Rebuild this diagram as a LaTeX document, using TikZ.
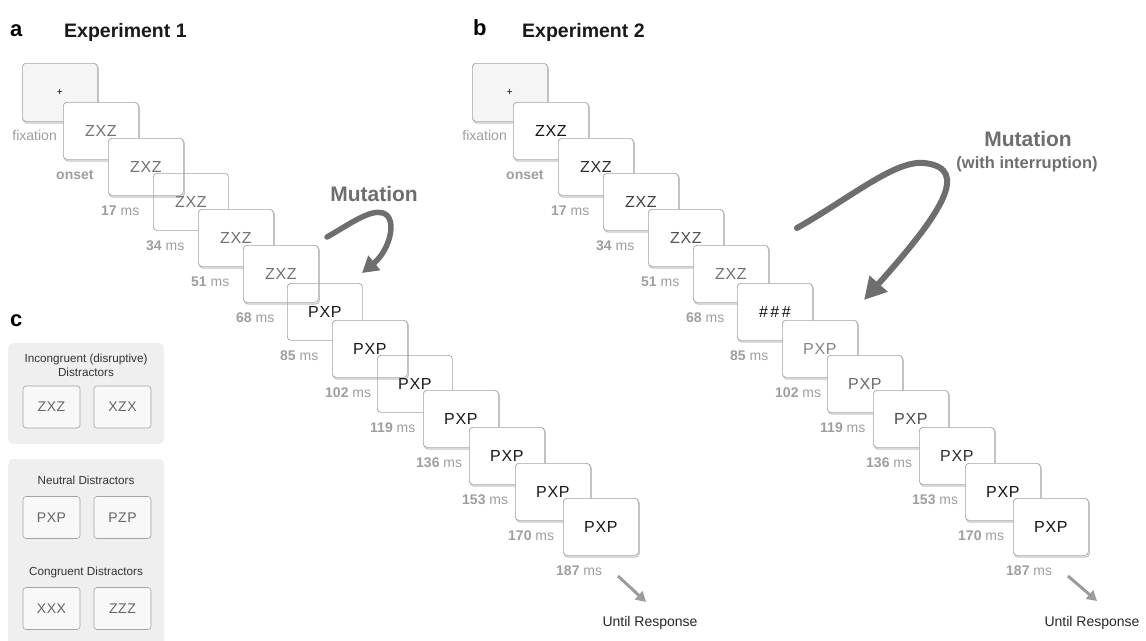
\documentclass[tikz,border=0pt]{standalone}
\usepackage{fontspec}
\setmainfont{Liberation Sans}
\newfontfamily\stimfont[LetterSpace=4]{Liberation Sans}
\usetikzlibrary{arrows.meta,calc}
\definecolor{framegray}{HTML}{A3A3A3}
\definecolor{shadowgray}{HTML}{C4C4C4}
\definecolor{labelgray}{HTML}{9E9E9E}
\definecolor{mutgray}{HTML}{6E6E6E}
\definecolor{panelgray}{HTML}{EFEFEF}
\definecolor{fixfill}{HTML}{F5F5F5}
\definecolor{sqfill}{HTML}{F8F8F8}
\definecolor{respgray}{HTML}{9C9C9C}
\newcommand\hashes{\#\kern2.5pt\#\kern2.5pt\#}
\begin{document}
\begin{tikzpicture}[x=1pt,y=-1pt,
  frame/.style={draw=framegray, line width=0.7pt, rounded corners=3.5pt,
    minimum width=75pt, minimum height=57pt, inner sep=0pt, anchor=north west,
    font=\stimfont\fontsize{16}{16}\selectfont},
  op/.style={fill=white, preaction={draw=shadowgray, line width=1.1pt,
    transform canvas={xshift=1pt,yshift=-1.6pt}}},
  tr/.style={fill=none},
  tlabel/.style={anchor=base west, text=labelgray, inner sep=0pt,
    font=\fontsize{14}{16}\selectfont},
  paneltitle/.style={anchor=base west, inner sep=0pt,
    font=\bfseries\fontsize{22}{24}\selectfont},
  exptitle/.style={anchor=base west, inner sep=0pt,
    font=\bfseries\fontsize{19.5}{22}\selectfont, text=black!90},
  muttext/.style={anchor=base, inner sep=0pt, text=mutgray},
  mutarrow/.style={draw=mutgray, line width=5.5pt, line cap=round},
  resparrow/.style={draw=respgray, line width=3pt, -{Triangle[length=10pt,width=11pt]}},
  resptext/.style={anchor=base, inner sep=0pt, text=black!85,
    font=\fontsize{14}{16}\selectfont},
  cpanel/.style={fill=panelgray, rounded corners=5pt, inner sep=0pt, anchor=north west,
    minimum width=156pt},
  ctext/.style={inner sep=0pt, text=black!80, font=\fontsize{11.7}{14}\selectfont},
  csq/.style={draw=framegray, fill=sqfill, line width=0.6pt, rounded corners=3pt,
    minimum width=57pt, minimum height=42pt, inner sep=0pt, text=black!60,
    font=\stimfont\fontsize{14}{14}\selectfont}
]
\useasboundingbox (0,0) rectangle (1146,640);

% ---------- titles ----------
\node[paneltitle] (ta) at (10,36) {a};
\node[exptitle] (te1) at (64,37) {Experiment 1};
\node[paneltitle] (tb) at (473,35) {b};
\node[exptitle] (te2) at (522,37) {Experiment 2};
\node[paneltitle] (tc) at (10,326) {c};

% ---------- panel a ----------
\node[frame, op, fill=fixfill, minimum height=58pt, text=black,
      font=\fontsize{10}{10}\selectfont] (af) at (22,63) {+};
\node[anchor=base east, inner sep=0pt, text=labelgray,
      font=\fontsize{14}{16}\selectfont] (afl) at (57,140) {fixation};
\foreach \n/\x/\y/\t/\c/\f in {
  0/63/102/ZXZ/55/op, 1/108/138/ZXZ/55/op, 2/153/173/ZXZ/55/tr,
  3/198/209/ZXZ/55/op, 4/243/245/ZXZ/55/op, 5/287/283/PXP/90/tr,
  6/332/320/PXP/90/op, 7/377/355/PXP/90/tr, 8/423/390/PXP/90/op,
  9/469/427/PXP/90/op, 10/515/463/PXP/90/op, 11/563/498/PXP/90/op}
  \node[frame, \f, text=black!\c] (a\n) at (\x,\y) {\t};
\foreach \n/\lab in {0/{\textbf{onset}}, 1/{\textbf{17} ms}, 2/{\textbf{34} ms},
  3/{\textbf{51} ms}, 4/{\textbf{68} ms}, 5/{\textbf{85} ms}, 6/{\textbf{102} ms},
  7/{\textbf{119} ms}, 8/{\textbf{136} ms}, 9/{\textbf{153} ms},
  10/{\textbf{170} ms}, 11/{\textbf{187} ms}}
  \node[tlabel] (al\n) at ($(a\n.south west)+(-7,20)$) {\lab};

\node[muttext, font=\bfseries\fontsize{21}{24}\selectfont] (mta) at (374,201) {Mutation};
\coordinate (ma1) at (327,237);
\coordinate (ma2) at (383,213);
\coordinate (ma3) at (362,273);
\draw[mutarrow, -{Triangle[length=16pt,width=18pt]}]
  (ma1) .. controls (350,224) and (370,209) .. (ma2)
        .. controls (398,218) and (390,250) .. (ma3);

\coordinate (ua1) at (618,576);
\coordinate (ua2) at (646,602);
\draw[resparrow] (ua1) -- (ua2);
\node[resptext] (uta) at (650,626) {Until Response};

% ---------- panel b ----------
\node[frame, op, fill=fixfill, minimum height=58pt, text=black,
      font=\fontsize{10}{10}\selectfont] (bf) at (472,63) {+};
\node[anchor=base east, inner sep=0pt, text=labelgray,
      font=\fontsize{14}{16}\selectfont] (bfl) at (507,140) {fixation};
\foreach \n/\x/\y/\t/\c in {
  0/513/102/ZXZ/92, 1/558/138/ZXZ/82, 2/603/173/ZXZ/75,
  3/648/209/ZXZ/68, 4/693/245/ZXZ/55, 5/737/283/\hashes/95,
  6/782/320/PXP/48, 7/827/355/PXP/58, 8/873/390/PXP/70,
  9/919/427/PXP/82, 10/965/463/PXP/92, 11/1013/498/PXP/92}
  \node[frame, op, text=black!\c] (b\n) at (\x,\y) {\t};
\foreach \n/\lab in {0/{\textbf{onset}}, 1/{\textbf{17} ms}, 2/{\textbf{34} ms},
  3/{\textbf{51} ms}, 4/{\textbf{68} ms}, 5/{\textbf{85} ms}, 6/{\textbf{102} ms},
  7/{\textbf{119} ms}, 8/{\textbf{136} ms}, 9/{\textbf{153} ms},
  10/{\textbf{170} ms}, 11/{\textbf{187} ms}}
  \node[tlabel] (bl\n) at ($(b\n.south west)+(-7,20)$) {\lab};

\node[muttext, font=\bfseries\fontsize{21}{24}\selectfont] (mtb) at (1028,146) {Mutation};
\node[muttext, font=\bfseries\fontsize{16.5}{18}\selectfont] (mtb2) at (1027,168) {(with interruption)};
\coordinate (mb1) at (797,228);
\coordinate (mb2) at (924,163);
\coordinate (mb3) at (864,300);
\draw[mutarrow, line width=6pt, -{Triangle[length=22pt,width=23pt]}]
  (mb1) .. controls (850,198) and (895,160) .. (mb2)
        .. controls (972,168) and (940,215) .. (mb3);

\coordinate (ub1) at (1068,576);
\coordinate (ub2) at (1097,601);
\draw[resparrow] (ub1) -- (ub2);
\node[resptext] (utb) at (1092,626) {Until Response};

% ---------- panel c ----------
\node[cpanel, minimum height=101pt] (c1) at (8,343) {};
\node[cpanel, minimum height=195pt] (c2) at (8,459) {};
\node[ctext, align=center] (c1t) at (86,365) {Incongruent (disruptive)\\Distractors};
\node[csq] (c1a) at (51.5,407) {ZXZ};
\node[csq] (c1b) at (122.5,407) {XZX};
\node[ctext, anchor=base] (c2t) at (86,484) {Neutral Distractors};
\node[csq] (c2a) at (51.5,517.5) {PXP};
\node[csq] (c2b) at (122.5,517.5) {PZP};
\node[ctext, anchor=base] (c3t) at (86,575) {Congruent Distractors};
\node[csq] (c3a) at (51.5,608.5) {XXX};
\node[csq] (c3b) at (122.5,608.5) {ZZZ};
\end{tikzpicture}
\end{document}
